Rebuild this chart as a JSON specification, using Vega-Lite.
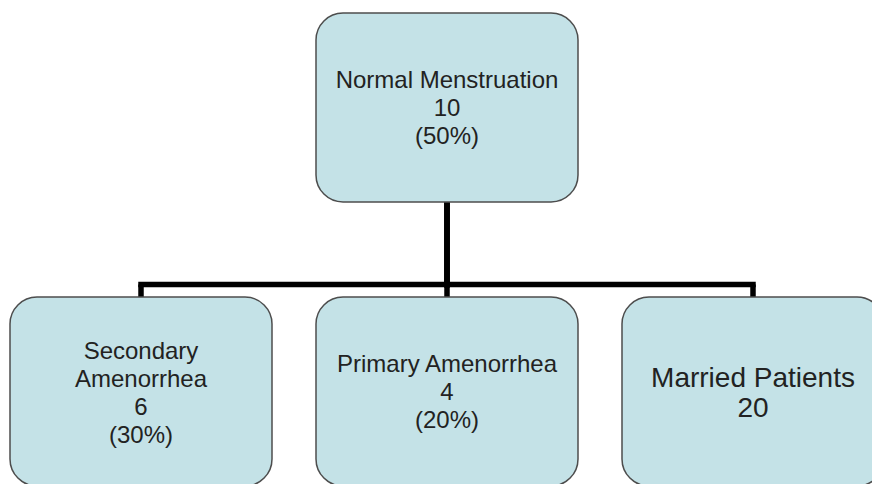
{
  "$schema": "https://vega.github.io/schema/vega-lite/v6.json",
  "width": 872,
  "height": 484,
  "padding": 0,
  "autosize": {"type": "fit", "contains": "padding"},
  "background": "white",
  "config": {"view": {"stroke": null}},
  "datasets": {
    "nodes": [
      {"name": "Normal Menstruation", "count": 10, "pct": "(50%)", "col": 1, "level": 0, "label": "Normal Menstruation\n10\n(50%)"},
      {"name": "Secondary Amenorrhea", "count": 6, "pct": "(30%)", "col": 0, "level": 1, "label": "Secondary\nAmenorrhea\n6\n(30%)"},
      {"name": "Primary Amenorrhea", "count": 4, "pct": "(20%)", "col": 1, "level": 1, "label": "Primary Amenorrhea\n4\n(20%)"},
      {"name": "Married Patients", "count": 20, "pct": "", "col": 2, "level": 1, "label": "Married Patients\n20"}
    ],
    "edges": [
      {"from": "Normal Menstruation", "to": "Secondary Amenorrhea", "from_col": 1, "from_level": 0, "to_col": 0, "to_level": 1},
      {"from": "Normal Menstruation", "to": "Primary Amenorrhea", "from_col": 1, "from_level": 0, "to_col": 1, "to_level": 1},
      {"from": "Normal Menstruation", "to": "Married Patients", "from_col": 1, "from_level": 0, "to_col": 2, "to_level": 1}
    ]
  },
  "layer": [
    {
      "data": {"name": "edges"},
      "mark": {"type": "rule", "color": "black", "strokeWidth": 5.5, "strokeCap": "square", "yOffset": 94.5, "y2Offset": -107},
      "encoding": {
        "x": {"field": "from_col", "type": "quantitative", "scale": {"domain": [-0.4608, 2.3889], "nice": false, "zero": false}, "axis": null},
        "y": {"field": "from_level", "type": "quantitative", "scale": {"domain": [-0.37852, 1.3257], "nice": false, "zero": false, "reverse": true}, "axis": null},
        "y2": {"field": "to_level"}
      }
    },
    {
      "data": {"name": "edges"},
      "mark": {"type": "rule", "color": "black", "strokeWidth": 5.5, "strokeCap": "square", "yOffset": -107},
      "encoding": {
        "x": {"field": "from_col", "type": "quantitative", "axis": null},
        "x2": {"field": "to_col"},
        "y": {"field": "to_level", "type": "quantitative", "axis": null}
      }
    },
    {
      "data": {"name": "edges"},
      "mark": {"type": "rule", "color": "black", "strokeWidth": 5.5, "strokeCap": "butt", "yOffset": -107, "y2Offset": -94.5},
      "encoding": {
        "x": {"field": "to_col", "type": "quantitative", "axis": null},
        "y": {"field": "to_level", "type": "quantitative", "axis": null},
        "y2": {"field": "to_level"}
      }
    },
    {
      "data": {"name": "nodes"},
      "mark": {"type": "rect", "clip": true, "cornerRadius": 27, "fill": "#C4E2E7", "stroke": "#4d4d4d", "strokeWidth": 1.5, "xOffset": -131, "x2Offset": 131, "yOffset": -94.5, "y2Offset": 94.5},
      "encoding": {
        "x": {"field": "col", "type": "quantitative", "axis": null},
        "x2": {"field": "col"},
        "y": {"field": "level", "type": "quantitative", "axis": null},
        "y2": {"field": "level"}
      }
    },
    {
      "data": {"name": "nodes"},
      "transform": [{"filter": "datum.name === 'Normal Menstruation' || datum.name === 'Primary Amenorrhea'"}],
      "mark": {"type": "text", "font": "Liberation Sans", "fontSize": 24, "lineHeight": 28, "lineBreak": "\n", "color": "#222222", "align": "center", "baseline": "middle", "yOffset": -26.5},
      "encoding": {
        "x": {"field": "col", "type": "quantitative", "axis": null},
        "y": {"field": "level", "type": "quantitative", "axis": null},
        "text": {"field": "label"}
      }
    },
    {
      "data": {"name": "nodes"},
      "transform": [{"filter": "datum.name === 'Secondary Amenorrhea'"}],
      "mark": {"type": "text", "font": "Liberation Sans", "fontSize": 24, "lineHeight": 28, "lineBreak": "\n", "color": "#222222", "align": "center", "baseline": "middle", "yOffset": -39.5},
      "encoding": {
        "x": {"field": "col", "type": "quantitative", "axis": null},
        "y": {"field": "level", "type": "quantitative", "axis": null},
        "text": {"field": "label"}
      }
    },
    {
      "data": {"name": "nodes"},
      "transform": [{"filter": "datum.name === 'Married Patients'"}],
      "mark": {"type": "text", "font": "Liberation Sans", "fontSize": 28, "lineHeight": 30, "lineBreak": "\n", "color": "#222222", "align": "center", "baseline": "middle", "yOffset": -12.8},
      "encoding": {
        "x": {"field": "col", "type": "quantitative", "axis": null},
        "y": {"field": "level", "type": "quantitative", "axis": null},
        "text": {"field": "label"}
      }
    }
  ]
}
